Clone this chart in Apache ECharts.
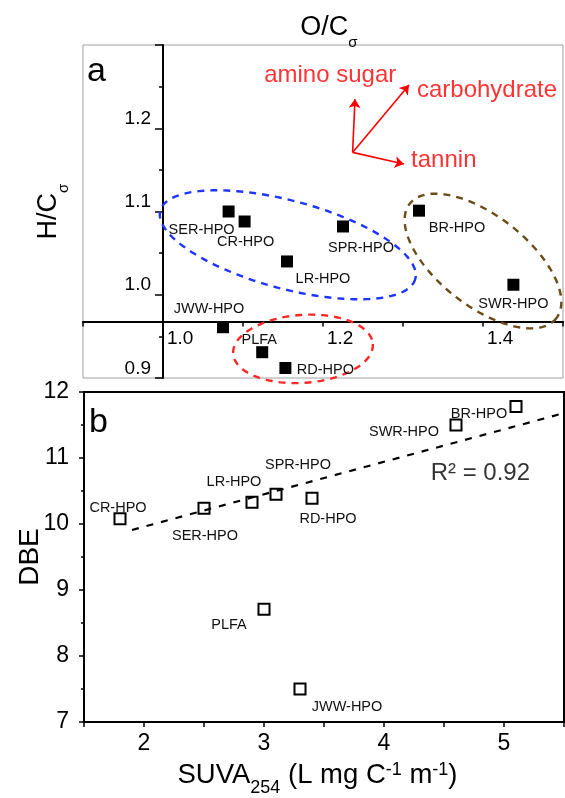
<!doctype html>
<html>
<head>
<meta charset="utf-8">
<title>H/C vs O/C and DBE vs SUVA254</title>
<script src="https://cdn.jsdelivr.net/npm/echarts@6/dist/echarts.min.js"></script>
<style>
    html, body { margin: 0; padding: 0; background: #fff; }
    #main { width: 565px; height: 798px; }
</style>
</head>
<body>
<div id="main"></div>
<script>
var FONT = '"Liberation Sans", Arial, sans-serif';

// ---- panel a: weighted H/C vs O/C ----
var namesA = ['SER-HPO', 'CR-HPO', 'SPR-HPO', 'LR-HPO', 'JWW-HPO', 'PLFA', 'RD-HPO', 'BR-HPO', 'SWR-HPO'];
var ocA = [1.082, 1.102, 1.225, 1.155, 1.075, 1.124, 1.153, 1.320, 1.438];
var hcA = [1.100, 1.088, 1.082, 1.040, 0.961, 0.931, 0.912, 1.101, 1.012];

// compound-class arrows
var arrowFrom = [1.237, 1.171];
var arrowNames = ['amino sugar', 'carbohydrate', 'tannin'];
var arrowTips = [[1.240, 1.235], [1.3075, 1.252], [1.301, 1.157]];
var arrowTextAt = [[1.209, 1.264], [1.405, 1.246], [1.351, 1.161]];

// group ellipses: blue, brown, red (centres in data units)
var groupCentres = [[1.156, 1.060], [1.400, 1.0405], [1.175, 0.935]];

// ---- panel b: DBE vs SUVA254 ----
var namesB = ['CR-HPO', 'SER-HPO', 'LR-HPO', 'SPR-HPO', 'RD-HPO', 'SWR-HPO', 'BR-HPO', 'PLFA', 'JWW-HPO'];
var suva = [1.8, 2.5, 2.9, 3.1, 3.4, 4.6, 5.1, 3.0, 3.3];
var dbe = [10.08, 10.24, 10.33, 10.45, 10.39, 11.50, 11.78, 8.71, 7.50];
var fitLine = [[1.9, 9.91], [5.5, 11.68]];
var r2Text = 'R² = 0.92';
var r2At = [4.389, 10.768];

// ---- styling (pixels) ----
var labelOffA = [[-27, 18], [1, 21], [18, 22], [36, 18], [-14, -18], [-3, -12], [40, 2], [38, 17], [0, 19]];
var labelOffB = [[-2, -11], [1, 28], [-18, -20], [22, -29], [16, 21], [-52, 7], [-37, 7], [-35, 16], [47, 18]];
var groupColors = ['#1f35ff', '#6b4b16', '#ff2626'];
var groupShape = [{a: 132, b: 44, rot: 15}, {a: 93, b: 45, rot: 38}, {a: 70, b: 34, rot: -4}];

var gridA = {left: 83, top: 45, width: 480, height: 333};
var gridB = {left: 84, top: 392, width: 480, height: 330};
var xRangeA = [0.9, 1.5], yRangeA = [0.9, 1.3];
var xCrossA = 0.968;   // H/C where the O/C axis crosses
var yCrossA = 1.0;     // O/C where the H/C axis crosses
var xAxisOffsetA = -(xCrossA - yRangeA[0]) / (yRangeA[1] - yRangeA[0]) * gridA.height;
var yAxisOffsetA = -(yCrossA - xRangeA[0]) / (xRangeA[1] - xRangeA[0]) * gridA.width;

var chart = echarts.init(document.getElementById('main'));

function ellipseItem(params, api) {
    var i = params.dataIndex;
    var c = api.coord([api.value(0), api.value(1)]);
    var s = groupShape[i];
    var r = s.rot * Math.PI / 180;
    var pts = [];
    for (var k = 0; k < 140; k++) {
        var t = k / 140 * Math.PI * 2;
        var ex = s.a * Math.cos(t), ey = s.b * Math.sin(t);
        pts.push([c[0] + ex * Math.cos(r) - ey * Math.sin(r),
                  c[1] + ex * Math.sin(r) + ey * Math.cos(r)]);
    }
    return {
        type: 'polygon',
        shape: {points: pts},
        style: {fill: 'none', stroke: groupColors[i], lineWidth: 2.4, lineDash: [7, 6]}
    };
}

var axisLineStyle = {color: '#000', width: 2};
var tickStyle = {color: '#000', width: 1.5};

chart.setOption({
    animation: false,
    textStyle: {fontFamily: FONT},
    grid: [
        {left: gridA.left, top: gridA.top, width: gridA.width, height: gridA.height,
         show: true, borderColor: '#a0a0a0', borderWidth: 1, outerBoundsMode: 'none'},
        {left: gridB.left, top: gridB.top, width: gridB.width, height: gridB.height,
         show: true, borderColor: '#000', borderWidth: 2, outerBoundsMode: 'none'}
    ],
    graphic: [
        {type: 'text', left: 87, top: 55, style: {text: 'a', font: '34px ' + FONT, fill: '#000'}},
        {type: 'text', left: 89, top: 406, style: {text: 'b', font: '34px ' + FONT, fill: '#000'}}
    ],
    xAxis: [
        {
            gridIndex: 0, type: 'value', min: xRangeA[0], max: xRangeA[1], interval: 0.1,
            position: 'bottom', offset: xAxisOffsetA,
            axisLine: {onZero: false, lineStyle: axisLineStyle},
            axisTick: {length: 5, lineStyle: tickStyle},
            axisLabel: {
                formatter: function (v) {
                    var k = Math.round(v * 10);
                    return (k === 10 || k === 12 || k === 14) ? v.toFixed(1) : '';
                },
                align: 'left', padding: [0, 0, 0, 4], margin: 8,
                fontSize: 19, color: '#000', fontFamily: FONT
            },
            splitLine: {show: false}
        },
        {
            gridIndex: 0, type: 'value', min: xRangeA[0], max: xRangeA[1], position: 'top',
            name: '{n|O/C}{s|σ}', nameLocation: 'middle', nameGap: -5,
            nameTextStyle: {
                color: '#000', padding: [0, 0, 0, 12],
                rich: {
                    n: {fontSize: 27, fontFamily: FONT, color: '#000'},
                    s: {fontSize: 15, fontFamily: FONT, color: '#000', padding: [30, 0, 0, 0]}
                }
            },
            axisLine: {show: false}, axisTick: {show: false}, axisLabel: {show: false},
            splitLine: {show: false}
        },
        {
            gridIndex: 1, type: 'value', min: 1.5, max: 5.5, interval: 0.5,
            axisLine: {onZero: false, lineStyle: axisLineStyle},
            axisTick: {length: 5, lineStyle: tickStyle},
            axisLabel: {
                formatter: function (v) { return Math.abs(v - Math.round(v)) < 1e-6 ? String(Math.round(v)) : ''; },
                margin: 10, fontSize: 23, color: '#000', fontFamily: FONT
            },
            splitLine: {show: false},
            name: '{n|SUVA}{s|254}{n| (L mg C}{p|-1}{n| m}{p|-1}{n|)}',
            nameLocation: 'middle', nameGap: 31,
            nameTextStyle: {
                color: '#000', padding: [0, 13, 0, 0],
                rich: {
                    n: {fontSize: 27.5, fontFamily: FONT, color: '#000'},
                    s: {fontSize: 18, fontFamily: FONT, color: '#000', padding: [26, 0, 0, 0]},
                    p: {fontSize: 18, fontFamily: FONT, color: '#000', padding: [0, 0, 10, 0]}
                }
            }
        }
    ],
    yAxis: [
        {
            gridIndex: 0, type: 'value', min: yRangeA[0], max: yRangeA[1], interval: 0.1,
            position: 'left', offset: yAxisOffsetA,
            axisLine: {onZero: false, lineStyle: axisLineStyle},
            axisTick: {length: 8, lineStyle: tickStyle},
            minorTick: {show: true, splitNumber: 2, length: 4, lineStyle: tickStyle},
            axisLabel: {
                formatter: function (v) { return v > 1.25 ? '' : v.toFixed(1); },
                verticalAlign: 'bottom', margin: 12,
                fontSize: 19, color: '#000', fontFamily: FONT
            },
            splitLine: {show: false}, minorSplitLine: {show: false},
            name: '{n|H/C}{s|σ}', nameLocation: 'middle', nameGap: 92,
            nameTextStyle: {
                color: '#000',
                rich: {
                    n: {fontSize: 27, fontFamily: FONT, color: '#000'},
                    s: {fontSize: 15, fontFamily: FONT, color: '#000', padding: [30, 0, 0, 0]}
                }
            }
        },
        {
            gridIndex: 1, type: 'value', min: 7, max: 12, interval: 1,
            axisLine: {onZero: false, lineStyle: axisLineStyle},
            axisTick: {length: 5, lineStyle: tickStyle},
            minorTick: {show: true, splitNumber: 2, length: 3, lineStyle: tickStyle},
            axisLabel: {margin: 15, fontSize: 23, color: '#000', fontFamily: FONT},
            splitLine: {show: false}, minorSplitLine: {show: false},
            name: 'DBE', nameLocation: 'middle', nameGap: 40, nameMoveOverlap: false,
            nameTextStyle: {fontSize: 28, fontFamily: FONT, color: '#000'}
        }
    ],
    series: [
        {
            type: 'custom', xAxisIndex: 0, yAxisIndex: 0, clip: false,
            renderItem: ellipseItem,
            data: groupCentres,
            silent: true, z: 2
        },
        {
            type: 'lines', coordinateSystem: 'cartesian2d', xAxisIndex: 0, yAxisIndex: 0,
            symbol: ['none', 'arrow'], symbolSize: 9,
            lineStyle: {color: '#ff0000', width: 1.6, opacity: 1, curveness: 0},
            data: arrowTips.map(function (t) { return {coords: [arrowFrom, t]}; }),
            z: 3
        },
        {
            type: 'scatter', xAxisIndex: 0, yAxisIndex: 0, symbolSize: 0,
            data: arrowNames.map(function (n, i) { return {name: n, value: arrowTextAt[i]}; }),
            label: {show: true, position: 'inside', formatter: '{b}', color: '#ff0000',
                    fontSize: 24, fontFamily: FONT},
            z: 3
        },
        {
            type: 'scatter', xAxisIndex: 0, yAxisIndex: 0,
            symbol: 'rect', symbolSize: 12,
            itemStyle: {color: '#000', opacity: 1},
            data: namesA.map(function (n, i) {
                return {name: n, value: [ocA[i], hcA[i]], label: {offset: labelOffA[i]}};
            }),
            label: {show: true, position: 'inside', formatter: '{b}', color: '#111',
                    fontSize: 14.5, fontFamily: FONT},
            z: 5
        },
        {
            type: 'line', xAxisIndex: 2, yAxisIndex: 1,
            data: fitLine, symbol: 'none', silent: true,
            lineStyle: {color: '#000', width: 2.2, type: [7, 8]},
            z: 3
        },
        {
            type: 'scatter', xAxisIndex: 2, yAxisIndex: 1,
            symbol: 'rect', symbolSize: 11,
            itemStyle: {color: 'rgba(0,0,0,0)', borderColor: '#000', borderWidth: 2, opacity: 1},
            data: namesB.map(function (n, i) {
                return {name: n, value: [suva[i], dbe[i]], label: {offset: labelOffB[i]}};
            }),
            label: {show: true, position: 'inside', formatter: '{b}', color: '#111',
                    fontSize: 14.5, fontFamily: FONT},
            z: 5
        },
        {
            type: 'scatter', xAxisIndex: 2, yAxisIndex: 1, symbolSize: 0,
            data: [{name: r2Text, value: r2At}],
            label: {show: true, position: 'inside', align: 'left', formatter: '{b}',
                    color: '#000', fontSize: 24, fontFamily: FONT},
            z: 3
        }
    ]
});

window.addEventListener('resize', function () {
    chart.resize();
});
</script>
</body>
</html>
